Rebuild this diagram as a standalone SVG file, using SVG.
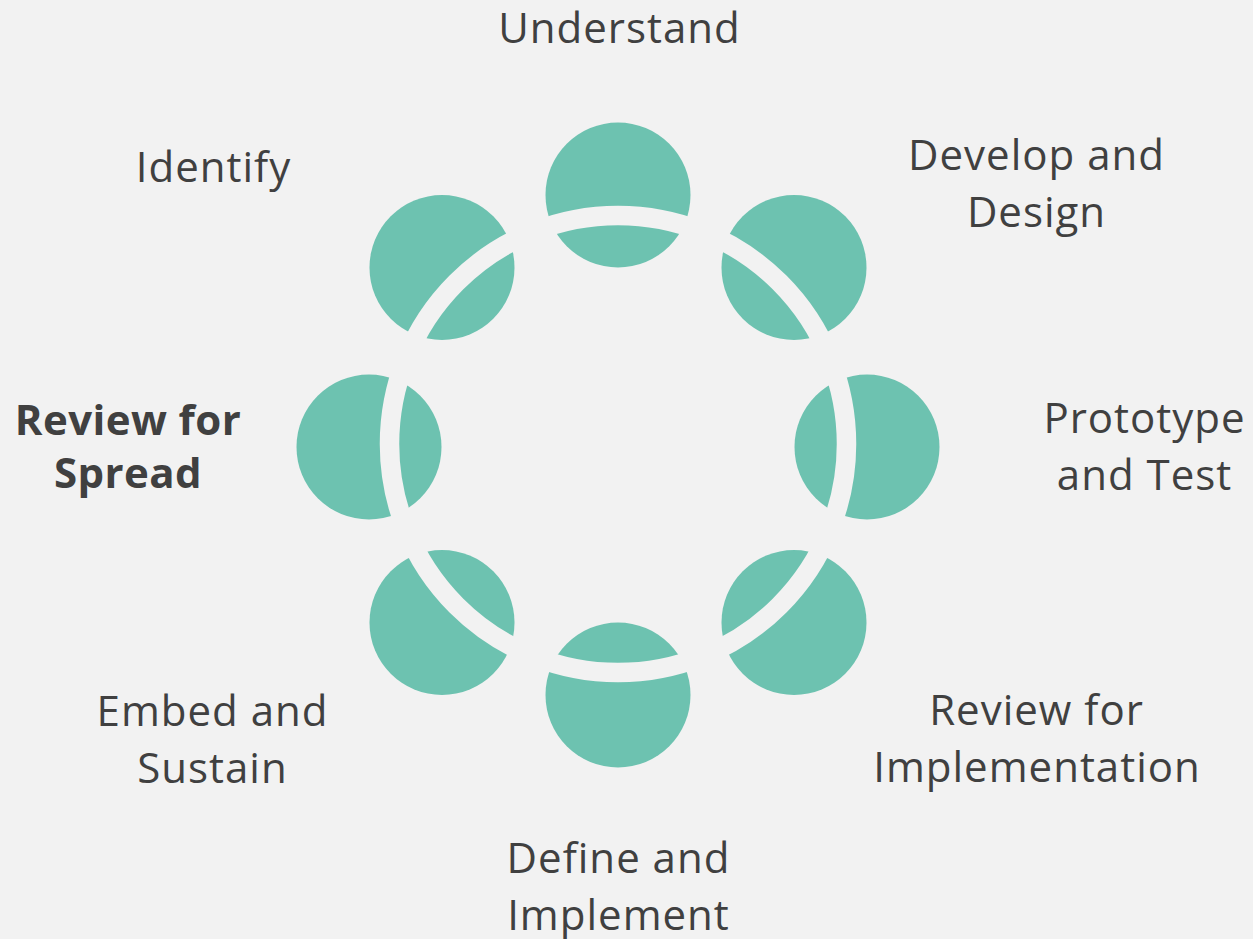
<svg xmlns="http://www.w3.org/2000/svg" width="1253" height="939" viewBox="0 0 1253 939">
  <style>
    .bubble { fill: #6dc2b0; }
    .lbl { font-family: "Open Sans", "Liberation Sans", sans-serif; font-size: 42px; fill: #404040; text-anchor: middle; letter-spacing: 1px; }
    .bold { font-weight: bold; letter-spacing: 0.4px; }
  </style>
  <defs>
    <mask id="cut" maskUnits="userSpaceOnUse" x="0" y="0" width="1253" height="939">
      <rect x="0" y="0" width="1253" height="939" fill="#fff"/>
      <circle cx="618" cy="444" r="228.5" fill="none" stroke="#000" stroke-width="19.5"/>
    </mask>
  </defs>
  <rect x="0" y="0" width="1253" height="939" fill="#f2f2f2"/>
  <g id="connectors"></g>
  <g id="node-understand">
    <circle class="bubble" cx="618" cy="195" r="72.5" mask="url(#cut)"/>
    <text class="lbl" x="619.5" y="43">Understand</text>
  </g>
  <g id="node-develop">
    <circle class="bubble" cx="794" cy="267.5" r="72.5" mask="url(#cut)"/>
    <text class="lbl" x="1036.5" y="170">Develop and</text>
    <text class="lbl" x="1036.5" y="227">Design</text>
  </g>
  <g id="node-prototype">
    <circle class="bubble" cx="867" cy="447" r="72.5" mask="url(#cut)"/>
    <text class="lbl" x="1144.5" y="433">Prototype</text>
    <text class="lbl" x="1144.5" y="490">and Test</text>
  </g>
  <g id="node-review-impl">
    <circle class="bubble" cx="794" cy="622.5" r="72.5" mask="url(#cut)"/>
    <text class="lbl" x="1036.5" y="725">Review for</text>
    <text class="lbl" x="1037" y="782">Implementation</text>
  </g>
  <g id="node-define">
    <circle class="bubble" cx="618" cy="695" r="72.5" mask="url(#cut)"/>
    <text class="lbl" x="618.5" y="873">Define and</text>
    <text class="lbl" x="618.5" y="930">Implement</text>
  </g>
  <g id="node-embed">
    <circle class="bubble" cx="442" cy="622.5" r="72.5" mask="url(#cut)"/>
    <text class="lbl" x="212.5" y="726">Embed and</text>
    <text class="lbl" x="212.5" y="783">Sustain</text>
  </g>
  <g id="node-review-spread">
    <circle class="bubble" cx="369" cy="447" r="72.5" mask="url(#cut)"/>
    <text class="lbl bold" x="128" y="435">Review for</text>
    <text class="lbl bold" x="128" y="488">Spread</text>
  </g>
  <g id="node-identify">
    <circle class="bubble" cx="442" cy="267.5" r="72.5" mask="url(#cut)"/>
    <text class="lbl" x="213.5" y="182">Identify</text>
  </g>
</svg>
